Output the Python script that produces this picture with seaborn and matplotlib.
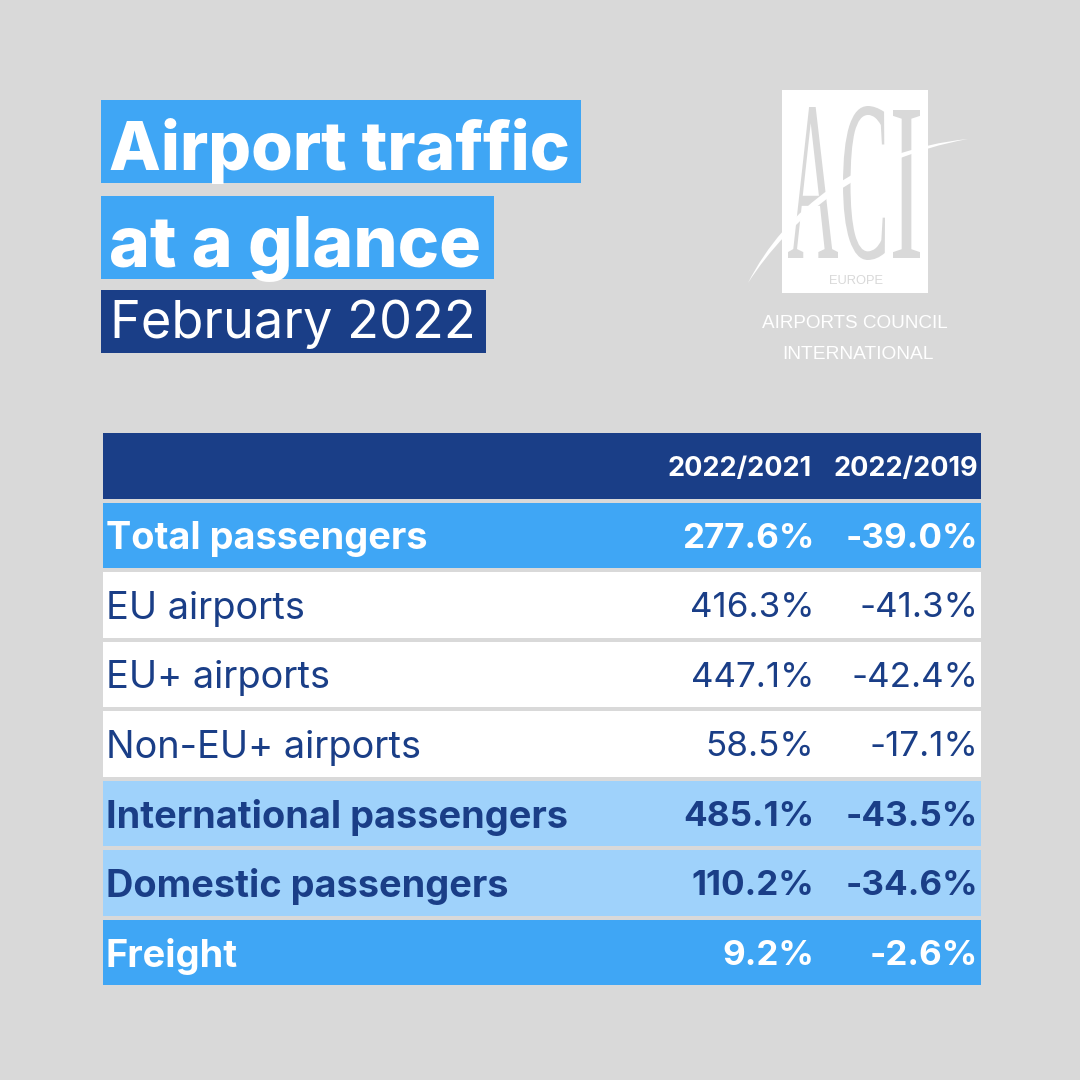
import numpy as np
import matplotlib
matplotlib.use("Agg")
import matplotlib.pyplot as plt
import seaborn as sns
from matplotlib.colors import ListedColormap
from matplotlib.patches import PathPatch, Rectangle
from matplotlib.path import Path
from matplotlib.textpath import TextPath
from matplotlib.font_manager import FontProperties
from matplotlib.transforms import Affine2D

# Table data
row_labels = ["", "Total passengers", "EU airports", "EU+ airports", "Non-EU+ airports",
              "International passengers", "Domestic passengers", "Freight"]
col_2021 = ["2022/2021", "277.6%", "416.3%", "447.1%", "58.5%", "485.1%", "110.2%", "9.2%"]
col_2019 = ["2022/2019", "-39.0%", "-41.3%", "-42.4%", "-17.1%", "-43.5%", "-34.6%", "-2.6%"]
# 0 header, 1 blue, 2 white, 3 light blue
row_kind = [0, 1, 2, 2, 2, 3, 3, 1]

BG = "#d9d9d9"
DARK = "#1a3e87"
BLUE = "#3fa6f5"
LIGHT = "#9fd2fb"
WHITE = "#ffffff"

TEXT_COLOR = {0: WHITE, 1: WHITE, 2: DARK, 3: DARK}
FONT = "Inter"

sns.set_theme(style="white")
plt.rcParams["font.family"] = [FONT, "DejaVu Sans"]

fig = plt.figure(figsize=(10.8, 10.8), dpi=100, facecolor=BG)

# Table rows as a one column heatmap, the lines are the gaps between rows
tx0, tx1, ty0, ty1 = 100.5, 982.5, 431, 987
ax = fig.add_axes([tx0 / 1080, 1 - ty1 / 1080, (tx1 - tx0) / 1080, (ty1 - ty0) / 1080])
kinds = np.array(row_kind).reshape(-1, 1)
sns.heatmap(kinds, ax=ax, cmap=ListedColormap([DARK, BLUE, WHITE, LIGHT]), vmin=-0.5, vmax=3.5,
            cbar=False, linewidths=1.6, linecolor=BG, xticklabels=False, yticklabels=False)


def frac(px):
    return (px - tx0) / (tx1 - tx0)


for i, label in enumerate(row_labels):
    kind = row_kind[i]
    weight = "normal" if kind == 2 else "bold"
    color = TEXT_COLOR[kind]
    y = i + 0.5
    if kind == 0:
        ax.text(frac(812), y, col_2021[i], color=color, fontsize=19.5, fontweight=weight, ha="right", va="center_baseline")
        ax.text(frac(978), y, col_2019[i], color=color, fontsize=19.5, fontweight=weight, ha="right", va="center_baseline")
        continue
    ax.text(frac(106), y, label, color=color, fontsize=27.3, fontweight=weight, ha="left", va="center_baseline")
    ax.text(frac(814), y, col_2021[i], color=color, fontsize=25.2, fontweight=weight, ha="right", va="center_baseline")
    ax.text(frac(978), y, col_2019[i], color=color, fontsize=25.2, fontweight=weight, ha="right", va="center_baseline")

# Overlay in pixel coordinates for the title and the logo
ov = fig.add_axes([0, 0, 1, 1], facecolor="none")
ov.set_xlim(0, 1080)
ov.set_ylim(1080, 0)
ov.axis("off")

ov.add_patch(Rectangle((101, 100), 480, 83, color=BLUE, lw=0))
ov.add_patch(Rectangle((101, 196), 393, 83, color=BLUE, lw=0))
ov.add_patch(Rectangle((101, 290), 385, 63, color=DARK, lw=0))
ov.text(109, 170, "Airport traffic", color=WHITE, fontsize=48.5, fontweight=800, ha="left", va="baseline")
ov.text(109, 267, "at a glance", color=WHITE, fontsize=50.2, fontweight=800, ha="left", va="baseline")
ov.text(110, 338, "February 2022", color=WHITE, fontsize=37.7, ha="left", va="baseline")


def glyph(s, x0, y0, x1, y1, color, family="Liberation Serif"):
    # logo letters, squeezed into their box
    tp = TextPath((0, 0), s, size=100, prop=FontProperties(family=family))
    bb = tp.get_extents()
    tr = (Affine2D().translate(-bb.x0, -bb.y0)
          .scale((x1 - x0) / bb.width, -(y1 - y0) / bb.height)
          .translate(x0, y1))
    ov.add_patch(PathPatch(tr.transform_path(tp), facecolor=color, edgecolor="none"))


# Logo
ov.add_patch(Rectangle((782, 90), 146, 203, color=WHITE, lw=0))
glyph("A", 788, 107, 838, 258, BG)
glyph("C", 843, 106, 885, 260, BG)
glyph("I", 893, 110, 920, 258, BG)

LOGO_FONT = "Liberation Sans"
ov.text(856.5, 284, "EUROPE", color=BG, fontsize=9.3, family=LOGO_FONT, ha="center", va="baseline")
ov.text(855, 328, "AIRPORTS COUNCIL", color=WHITE, fontsize=13.6, family=LOGO_FONT, ha="center", va="baseline")
ov.text(858, 359, "INTERNATIONAL", color=WHITE, fontsize=13.8, family=LOGO_FONT, ha="center", va="baseline")

swoosh = Path([(748, 283), (785, 210), (860, 150), (968, 139),
               (862, 158), (790, 218), (748, 283), (748, 283)],
              [Path.MOVETO, Path.CURVE4, Path.CURVE4, Path.CURVE4,
               Path.CURVE4, Path.CURVE4, Path.CURVE4, Path.CLOSEPOLY])
ov.add_patch(PathPatch(swoosh, facecolor=WHITE, edgecolor="none"))

fig.savefig("out.png", dpi=100, facecolor=BG)
